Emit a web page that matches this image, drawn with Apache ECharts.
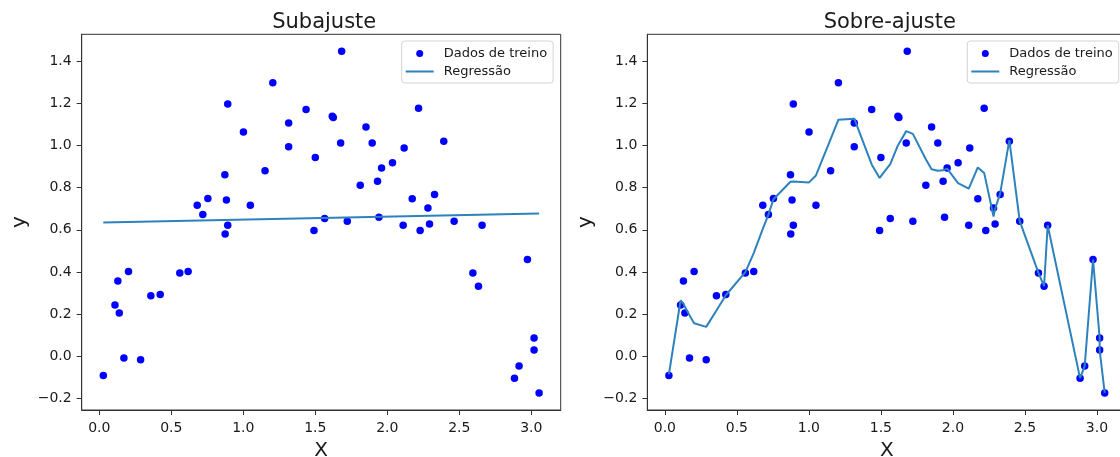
<!DOCTYPE html>
<html>
<head>
<meta charset="utf-8">
<script src="https://cdn.jsdelivr.net/npm/echarts@6/dist/echarts.min.js"></script>
<style>
  html, body { margin: 0; padding: 0; background: #ffffff; }
  #chart { width: 1120px; height: 457px; }
</style>
</head>
<body>
<div id="chart"></div>
<script>
// Training samples (sorted by x)
const trainX = [0.028, 0.109, 0.129, 0.139, 0.171, 0.203, 0.287, 0.358, 0.423, 0.559,
                0.617, 0.680, 0.719, 0.754, 0.872, 0.874, 0.883, 0.892, 0.892, 1.001,
                1.049, 1.151, 1.205, 1.315, 1.315, 1.436, 1.491, 1.500, 1.565, 1.618,
                1.625, 1.676, 1.683, 1.722, 1.812, 1.852, 1.895, 1.932, 1.942, 1.960,
                2.036, 2.110, 2.117, 2.173, 2.217, 2.228, 2.282, 2.293, 2.328, 2.392,
                2.464, 2.594, 2.633, 2.658, 2.883, 2.915, 2.973, 3.019, 3.019, 3.054];
const trainY = [-0.090, 0.244, 0.358, 0.206, -0.008, 0.402, -0.016, 0.288, 0.294, 0.396,
                0.402, 0.717, 0.673, 0.749, 0.861, 0.580, 0.741, 1.197, 0.622, 1.064,
                0.717, 0.880, 1.297, 1.107, 0.994, 1.170, 0.597, 0.943, 0.654, 1.138,
                1.132, 1.012, 1.447, 0.641, 0.811, 1.088, 1.012, 0.830, 0.660, 0.893,
                0.918, 0.622, 0.988, 0.747, 1.176, 0.597, 0.703, 0.628, 0.768, 1.020,
                0.641, 0.396, 0.333, 0.622, -0.103, -0.046, 0.459, 0.087, 0.030, -0.173];

// Linear (underfit) model: prediction at the first and last sample
const underfitX = [0.028, 3.054];
const underfitY = [0.635, 0.678];

// Flexible (overfit) model: prediction at every training x
const overfitY = [-0.085, 0.265, 0.250, 0.235, 0.195, 0.157, 0.140, 0.218, 0.290, 0.400,
                  0.490, 0.605, 0.672, 0.745, 0.828, 0.828, 0.828, 0.829, 0.829, 0.825,
                  0.858, 1.030, 1.122, 1.127, 1.127, 0.910, 0.846, 0.846, 0.912, 1.000,
                  1.008, 1.068, 1.070, 1.055, 0.935, 0.887, 0.880, 0.882, 0.885, 0.890,
                  0.822, 0.795, 0.795, 0.896, 0.870, 0.862, 0.663, 0.700, 0.772, 1.025,
                  0.641, 0.396, 0.333, 0.622, -0.103, -0.046, 0.459, 0.087, 0.030, -0.173];

const xTicks = [0, 0.5, 1, 1.5, 2, 2.5, 3];
const yTicks = [-0.2, 0, 0.2, 0.4, 0.6, 0.8, 1.0, 1.2, 1.4];
const xRange = [-0.122, 3.204];
const yRange = [-0.254, 1.527];

const titles = ['Subajuste', 'Sobre-ajuste'];
const seriesNames = ['Dados de treino', 'Regressão'];
const axisNames = ['X', 'y'];

const FONT = 'DejaVu Sans';
const TEXT = '#1a1a1a';
const FRAME = '#333333';
const DOT = '#0000ff';
const LINE = '#2d82bd';

const fmt = v => {
  const s = Math.abs(v).toFixed(1);
  return v < -1e-9 ? '\u2212' + s : s;
};

const pairs = (xs, ys) => xs.map((x, i) => [x, ys[i]]);

const panels = [
  { left: 81.7, lineData: pairs(underfitX, underfitY) },
  { left: 647.3, lineData: pairs(trainX, overfitY) }
];
const PLOT_W = 479, PLOT_H = 375.7, PLOT_TOP = 34.3;

const option = {
  animation: false,
  backgroundColor: '#ffffff',
  textStyle: { fontFamily: FONT, color: TEXT },
  title: panels.map((p, i) => ({
    text: titles[i],
    left: p.left + PLOT_W / 2 - 2,
    top: 7,
    textAlign: 'center',
    textStyle: { fontFamily: FONT, fontSize: 21, fontWeight: 'normal', color: TEXT }
  })),
  legend: panels.map((p, i) => ({
    orient: 'vertical',
    left: p.left + 320,
    top: 41,
    padding: [6, 6, 5, 4],
    itemGap: 5,
    itemWidth: 28,
    itemHeight: 7,
    borderColor: '#d4d4d4',
    borderWidth: 1,
    borderRadius: 3,
    backgroundColor: 'rgba(255,255,255,0.8)',
    selectedMode: false,
    textStyle: { fontFamily: FONT, fontSize: 13, color: TEXT, padding: [0, 0, 0, 5] },
    data: [
      { name: seriesNames[0], icon: 'circle' },
      { name: seriesNames[1], icon: 'path://M0,0H28V2H0Z' }
    ]
  })),
  grid: panels.map(p => ({
    left: p.left, top: PLOT_TOP, width: PLOT_W, height: PLOT_H,
    show: true, borderColor: FRAME, borderWidth: 1, backgroundColor: 'transparent',
    containLabel: false, outerBoundsMode: 'none'
  })),
  xAxis: panels.map((p, i) => ({
    gridIndex: i, type: 'value', min: xRange[0], max: xRange[1],
    name: axisNames[0], nameLocation: 'middle', nameGap: 31,
    nameTextStyle: { fontFamily: FONT, fontSize: 20, color: TEXT },
    axisLine: { show: true, onZero: false, lineStyle: { color: FRAME, width: 1 } },
    axisTick: { show: true, length: 5, customValues: xTicks, lineStyle: { color: FRAME } },
    axisLabel: { customValues: xTicks, formatter: fmt, fontFamily: FONT, fontSize: 14, color: TEXT, margin: 11 },
    splitLine: { show: false }
  })),
  yAxis: panels.map((p, i) => ({
    gridIndex: i, type: 'value', min: yRange[0], max: yRange[1],
    name: axisNames[1], nameLocation: 'middle', nameGap: 52,
    nameTextStyle: { fontFamily: FONT, fontSize: 20, color: TEXT },
    axisLine: { show: true, onZero: false, lineStyle: { color: FRAME, width: 1 } },
    axisTick: { show: true, length: 5, customValues: yTicks, lineStyle: { color: FRAME } },
    axisLabel: { customValues: yTicks, formatter: fmt, fontFamily: FONT, fontSize: 14, color: TEXT, margin: 10 },
    splitLine: { show: false }
  })),
  series: []
};

panels.forEach((p, i) => {
  option.series.push({
    name: seriesNames[0], type: 'scatter', xAxisIndex: i, yAxisIndex: i,
    symbol: 'circle', symbolSize: 7.5,
    itemStyle: { color: DOT, opacity: 1 },
    data: pairs(trainX, trainY), z: 2
  });
  option.series.push({
    name: seriesNames[1], type: 'line', xAxisIndex: i, yAxisIndex: i,
    symbol: 'none', showSymbol: false,
    lineStyle: { color: LINE, width: 2 },
    itemStyle: { color: LINE },
    data: p.lineData, z: 3
  });
});

const chart = echarts.init(document.getElementById('chart'), null, { renderer: 'canvas' });
chart.setOption(option);
</script>
</body>
</html>
